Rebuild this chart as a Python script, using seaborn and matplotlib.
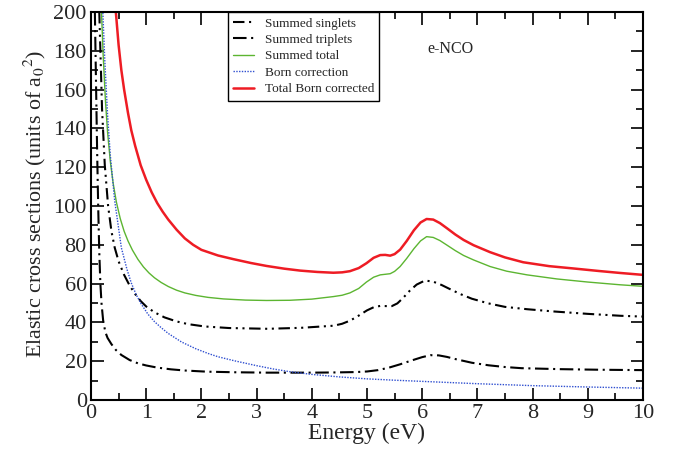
import numpy as np
import pandas as pd
import matplotlib
matplotlib.use("Agg")
import matplotlib.pyplot as plt
import seaborn as sns

# ---- data ----
sing_E = [0.15, 0.2, 0.25, 0.31, 0.37, 0.43, 0.5, 0.6, 0.7, 0.8, 0.9, 1.0, 1.15, 1.33, 1.55,
          1.76, 2.06, 2.5, 3.2, 3.8, 4.4, 4.55, 4.7, 4.85, 5.0, 5.12, 5.24, 5.35, 5.45, 5.55,
          5.65, 5.78, 5.9, 6.05, 6.2, 6.35, 6.5, 6.7, 6.9, 7.2, 7.5, 7.9, 8.4, 9.0, 9.6, 10.0]
sing_Q = [200, 150, 121, 100, 87, 78.5, 71.5, 64.5, 59, 54.6, 51, 48.2, 45.2, 42.6, 40.5,
          39.1, 37.9, 37.1, 36.7, 37.2, 38.3, 39.3, 41.0, 43.5, 46.2, 47.8, 48.5, 48.4, 48.4, 49.8,
          52.5, 56.5, 59.5, 61.6, 61.0, 59.3, 57.2, 54.5, 52.2, 49.8, 48.0, 46.8, 45.6, 44.4, 43.4, 43.0]

trip_E = [0.07, 0.09, 0.11, 0.13, 0.15, 0.17, 0.19, 0.22, 0.26, 0.3, 0.37, 0.45, 0.55, 0.7,
          0.85, 1.0, 1.2, 1.45, 1.7, 2.1, 2.6, 3.2, 4.0, 4.4, 4.8, 5.0, 5.2, 5.4, 5.6, 5.8,
          6.0, 6.15, 6.3, 6.45, 6.6, 6.9, 7.2, 7.5, 7.8, 8.5, 9.2, 10.0]
trip_Q = [200, 165, 130, 100, 76, 60, 50, 41, 35, 32, 28.8, 25.8, 23.2, 20.6,
          18.9, 17.8, 16.7, 15.8, 15.2, 14.6, 14.3, 14.1, 14.1, 14.2, 14.4, 14.7, 15.4, 16.7, 18.4, 20.3,
          22.1, 23.1, 23.0, 22.2, 21.1, 19.2, 17.9, 17.0, 16.4, 15.9, 15.6, 15.4]

tot_E = [0.19, 0.22, 0.26, 0.3, 0.35, 0.4, 0.46, 0.53, 0.6, 0.67, 0.75, 0.85, 0.95, 1.05,
         1.15, 1.27, 1.4, 1.55, 1.7, 1.9, 2.12, 2.4, 2.8, 3.18, 3.6, 4.0, 4.39, 4.55, 4.69,
         4.85, 4.99, 5.12, 5.24, 5.33, 5.42, 5.5, 5.6, 5.72, 5.85, 5.97, 6.08, 6.2, 6.32,
         6.45, 6.6, 6.75, 6.93, 7.23, 7.53, 7.9, 8.44, 9.0, 9.58, 10.0]
tot_Q = [200, 178, 155, 138, 123, 112, 102, 93.5, 87, 82, 77.3, 72.5, 68.6, 65.5,
         63, 60.6, 58.5, 56.6, 55.2, 53.9, 52.9, 52.1, 51.5, 51.3, 51.4, 52, 53.3, 54, 55.2,
         57.5, 60.8, 63.3, 64.5, 64.8, 65.1, 66.3, 68.8, 73, 78, 82, 84.2, 83.8, 82.2,
         79.8, 77, 74.5, 72.2, 68.8, 66.4, 64.5, 62.4, 60.8, 59.4, 58.6]

born_E = [0.2, 0.25, 0.3, 0.35, 0.43, 0.55, 0.65, 0.73, 0.82, 0.91, 1.03, 1.15, 1.27, 1.4,
          1.64, 1.9, 2.12, 2.3, 2.6, 3.0, 3.3, 3.6, 4.0, 4.5, 5.0, 5.5, 6.0, 7.0, 8.0, 9.0, 10.0]
born_Q = [210, 175, 147, 126, 102.5, 78.5, 67.5, 60.3, 54.2, 49.5, 44.3, 40.4, 37.3, 34.3,
          29.9, 26.4, 24.0, 22.3, 20.2, 17.7, 16.0, 14.6, 13.2, 11.9, 10.9, 10.2, 9.6, 8.4, 7.4, 6.7, 6.1]

red_E = [0.45, 0.5, 0.55, 0.6, 0.67, 0.73, 0.8, 0.9, 1.0, 1.1, 1.2, 1.3, 1.4, 1.55, 1.7,
         1.85, 2.0, 2.3, 2.58, 2.9, 3.18, 3.5, 3.79, 4.1, 4.39, 4.55, 4.69, 4.85, 4.99, 5.12,
         5.24, 5.33, 5.42, 5.5, 5.6, 5.72, 5.85, 5.97, 6.08, 6.2, 6.32, 6.45, 6.6, 6.75, 6.93,
         7.23, 7.5, 7.83, 8.3, 8.74, 9.2, 9.58, 10.0]
red_Q = [200, 183, 170, 160, 148, 139, 131, 121, 113.5, 107, 101.5, 97, 93, 87.8, 83.3,
         80.0, 77.4, 74.5, 72.6, 70.6, 69.1, 67.7, 66.7, 66.0, 65.6, 65.8, 66.4, 68, 70.5, 73.3,
         74.7, 74.8, 74.4, 75.2, 77.5, 82, 87.5, 91.5, 93.3, 93.0, 91.2, 88.5, 85.3, 82.5, 79.8,
         76.2, 73.5, 71, 69, 67.8, 66.5, 65.5, 64.5]

labels = ["Summed singlets", "Summed triplets", "Summed total",
          "Born correction", "Total Born corrected"]
xticks = [0, 1, 2, 3, 4, 5, 6, 7, 8, 9, 10]
yticks = [0, 20, 40, 60, 80, 100, 120, 140, 160, 180, 200]

# ---- style ----
sns.set_theme(style="ticks")
plt.rcParams['font.family'] = ['Liberation Serif', 'DejaVu Serif']
plt.rcParams['mathtext.fontset'] = 'stix'

fig = plt.figure(figsize=(6.73, 4.53), dpi=100)
ax = fig.add_axes([91/673, 1-400/453, (643-91)/673, (400-12)/453])

series = [
    (sing_E, sing_Q, labels[0], dict(color="black", lw=1.5, ls=(0, (5.5, 2.2, 1.0, 2.2, 1.0, 2.2)))),
    (trip_E, trip_Q, labels[1], dict(color="black", lw=1.5, ls=(0, (6.5, 2.2, 1.0, 2.2)))),
    (tot_E, tot_Q, labels[2], dict(color="#5cb531", lw=1.0, ls="-")),
    (born_E, born_Q, labels[3], dict(color="#2f4fd0", lw=1.0, ls=(0, (1.0, 1.0)))),
    (red_E, red_Q, labels[4], dict(color="#ee1c24", lw=1.8, ls="-")),
]
for E, Q, lab, st in series:
    df = pd.DataFrame({"E": E, "Q": Q})
    sns.lineplot(data=df, x="E", y="Q", ax=ax, sort=False, estimator=None,
                 label=lab, color=st["color"], linewidth=st["lw"], linestyle=st["ls"])

ax.set_xlim(0, 10)
ax.set_ylim(0, 200)
ax.set_xticks(xticks)
ax.set_yticks(yticks)
ax.set_xticks(np.arange(0.5, 10, 1.0), minor=True)
ax.set_yticks(np.arange(10, 200, 20), minor=True)
ax.tick_params(which="both", direction="in", top=True, right=True, labelsize=16,
               color="black", width=1.2, pad=3)
ax.tick_params(which="major", length=9)
ax.tick_params(which="minor", length=5)
for s in ax.spines.values():
    s.set_linewidth(1.5)
    s.set_color("black")

ax.set_xlabel("Energy (eV)", fontsize=17, labelpad=0)
ax.set_ylabel(r"Elastic cross sections (units of a$_{0}{}^{2}$)", fontsize=15.8)
ax.yaxis.set_label_coords(-0.078, 0.505)

ax.text(6.1, 181, "e-NCO", fontsize=11.5, va="center", ha="left")

leg = ax.legend(loc="upper left", bbox_to_anchor=(0.248, 1.0), borderaxespad=0,
                fontsize=9.5, handlelength=1.6, handletextpad=0.8, labelspacing=0.32,
                borderpad=0.4, fancybox=False, framealpha=1, edgecolor="black")
leg.get_frame().set_linewidth(1.0)

fig.savefig("out.png", dpi=100)
